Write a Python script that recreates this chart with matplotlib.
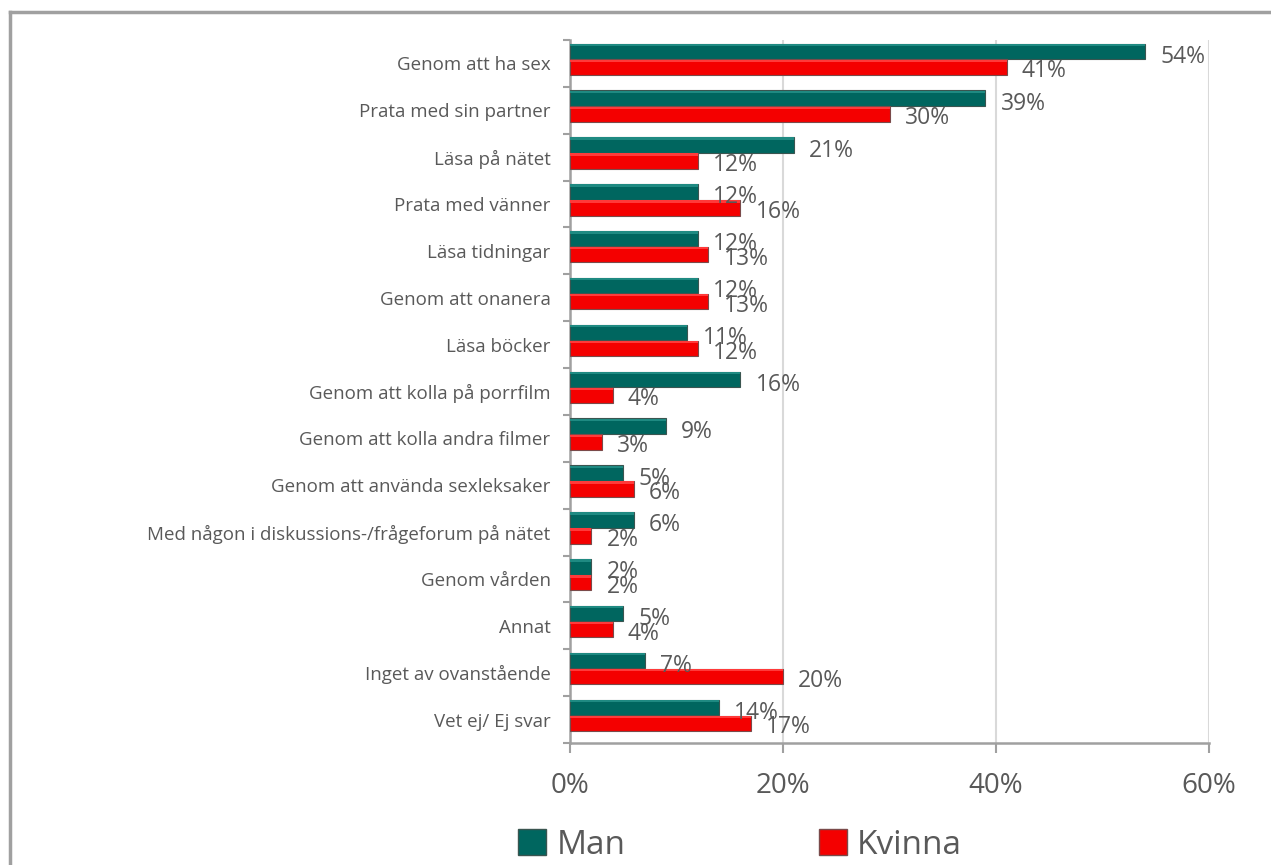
import matplotlib

matplotlib.use("Agg")

import matplotlib.pyplot as plt
from matplotlib.lines import Line2D
from matplotlib.patches import Patch

plt.rcParams["font.family"] = ["Open Sans", "DejaVu Sans"]

categories = [
    "Genom att ha sex",
    "Prata med sin partner",
    "Läsa på nätet",
    "Prata med vänner",
    "Läsa tidningar",
    "Genom att onanera",
    "Läsa böcker",
    "Genom att kolla på porrfilm",
    "Genom att kolla andra filmer",
    "Genom att använda sexleksaker",
    "Med någon i diskussions-/frågeforum på nätet",
    "Genom vården",
    "Annat",
    "Inget av ovanstående",
    "Vet ej/ Ej svar",
]
man = [54, 39, 21, 12, 12, 12, 11, 16, 9, 5, 6, 2, 5, 7, 14]
kvinna = [41, 30, 12, 16, 13, 13, 12, 4, 3, 6, 2, 2, 4, 20, 17]

TEAL = "#00665f"
RED = "#f40000"
TEXT = "#595959"
AXIS = "#a0a0a0"

fig = plt.figure(figsize=(12.71, 8.65), dpi=100)
ax = fig.add_axes([570 / 1271, 1 - 743 / 865, 639 / 1271, 703 / 865])

pos = list(range(len(categories)))
h = 0.33
man_y = [p - 0.26 for p in pos]
kv_y = [p + 0.08 for p in pos]
ax.barh(man_y, man, height=h, color=TEAL, edgecolor="#3a5550", linewidth=0.8, zorder=3)
ax.barh(kv_y, kvinna, height=h, color=RED, edgecolor="#7a4a4a", linewidth=0.8, zorder=3)
# thin highlight along top of bars for a bevel look
ax.barh([y - h / 2 + 0.03 for y in man_y], man, height=0.05, color="#1f8a82",
        linewidth=0, zorder=4)
ax.barh([y - h / 2 + 0.03 for y in kv_y], kvinna, height=0.05, color="#ff3a3a",
        linewidth=0, zorder=4)

for y, v in zip(man_y, man):
    ax.annotate(f"{v}%", (v, y), xytext=(11, -4), textcoords="offset points",
                va="center", ha="left", fontsize=16.5, color=TEXT, zorder=5)
for y, v in zip(kv_y, kvinna):
    ax.annotate(f"{v}%", (v, y), xytext=(11, -3), textcoords="offset points",
                va="center", ha="left", fontsize=16.5, color=TEXT, zorder=5)

ax.set_xlim(0, 60)
ax.set_ylim(len(categories) - 0.5, -0.5)
ax.set_xticks([0, 20, 40, 60])
ax.set_xticklabels(["0%", "20%", "40%", "60%"])
ax.set_yticks(pos)
ax.set_yticklabels(categories)
ax.set_yticks([p - 0.5 for p in pos] + [len(pos) - 0.5], minor=True)
ax.tick_params(axis="y", which="major", length=0, pad=14, labelsize=13.5, labelcolor=TEXT)
ax.tick_params(axis="y", which="minor", length=5, width=1.5, color=AXIS)
ax.tick_params(axis="x", length=7, width=1.5, color=AXIS, labelsize=20, labelcolor=TEXT, pad=14)
ax.grid(axis="x", color="#d9d9d9", linewidth=1.5, zorder=0)
for side in ["top", "right"]:
    ax.spines[side].set_visible(False)
for side in ["left", "bottom"]:
    ax.spines[side].set_color(AXIS)
    ax.spines[side].set_linewidth(1.8)

handles = [
    Patch(facecolor=TEAL, edgecolor="#3a5550", label="Man"),
    Patch(facecolor=RED, edgecolor="#7a4a4a", label="Kvinna"),
]
fig.legend(handles=handles, loc="center", bbox_to_anchor=(740 / 1271, 1 - 845 / 865),
           ncol=2, frameon=False, fontsize=24, labelcolor=TEXT,
           handlelength=0.85, handleheight=0.85, handletextpad=0.3, columnspacing=5.8)

# outer chart border (left and top edges)
fig.add_artist(Line2D([10 / 1271, 10 / 1271], [0, 1 - 12 / 865], transform=fig.transFigure,
                      color=AXIS, linewidth=2.5))
fig.add_artist(Line2D([10 / 1271, 1], [1 - 12 / 865, 1 - 12 / 865], transform=fig.transFigure,
                      color=AXIS, linewidth=2.5))

fig.savefig("out.png", dpi=100)
